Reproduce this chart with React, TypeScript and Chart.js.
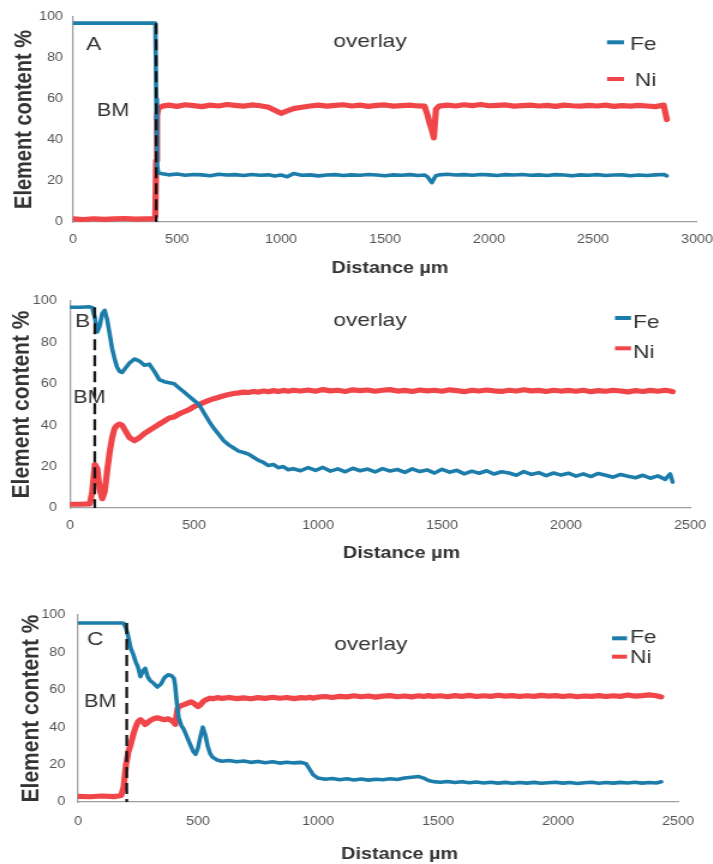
import React, { useEffect, useRef } from "react";
import { Chart, registerables } from "chart.js";

Chart.register(...registerables);

const FONT = '"Liberation Sans", Arial, Helvetica, sans-serif';
Chart.defaults.font.family = FONT;

// ---------------- data ----------------
const yTickValues = [0, 20, 40, 60, 80, 100];
const xTickValuesA = [0, 500, 1000, 1500, 2000, 2500, 3000];
const xTickValuesBC = [0, 500, 1000, 1500, 2000, 2500];
const seriesNames = ["Fe", "Ni"];
const panelLetters = ["A", "B", "C"];
const boundaryDistance = [400, 100, 203];
const boundaryTop = [97, 97, 95.7];

// Panel A
const distA = [0, 50, 100, 150, 200, 250, 300, 350, 390, 396, 400, 404, 410, 430, 460, 500, 540, 580, 620, 660, 700, 740, 780, 820, 860, 900, 940, 970, 1000, 1030, 1060, 1100, 1140, 1180, 1220, 1260, 1300, 1340, 1380, 1420, 1460, 1500, 1540, 1580, 1620, 1660, 1690, 1705, 1715, 1725, 1735, 1745, 1760, 1800, 1840, 1880, 1920, 1960, 2000, 2040, 2080, 2120, 2160, 2200, 2240, 2280, 2320, 2360, 2400, 2440, 2480, 2520, 2560, 2600, 2640, 2680, 2720, 2760, 2800, 2840, 2855];
const feA = [97, 97, 97, 97, 97, 97, 97, 97, 97, 97, 60, 28, 24, 23.5, 23.0, 23.4, 22.8, 23.2, 23.0, 22.6, 23.3, 22.9, 23.1, 22.7, 23.2, 22.8, 23.0, 22.4, 22.9, 22.1, 23.6, 22.8, 23.0, 22.5, 22.9, 23.1, 22.7, 23.0, 22.8, 23.2, 22.9, 22.6, 23.0, 22.8, 23.1, 22.7, 22.9, 22.0, 20.5, 19.2, 21.0, 22.6, 23.0, 23.3, 22.9, 23.1, 22.8, 23.2, 23.0, 22.7, 23.1, 22.9, 23.2, 22.8, 23.0, 22.7, 23.1, 22.9, 22.6, 23.0, 22.8, 23.1, 22.7, 22.9, 23.0, 22.6, 22.9, 22.7, 23.0, 23.2, 22.5];
const niA = [1.5, 1.2, 1.6, 1.3, 1.5, 1.7, 1.4, 1.5, 1.6, 3, 30, 52, 55.5, 56.5, 57.0, 56.4, 57.2, 56.8, 56.3, 57.0, 56.6, 57.3, 56.9, 56.5, 57.1, 56.7, 56.0, 54.5, 53.0, 54.2, 55.3, 56.0, 56.6, 57.0, 56.5, 56.9, 57.2, 56.6, 57.0, 56.4, 56.9, 57.1, 56.5, 56.8, 57.0, 56.6, 56.5, 52, 48, 45, 41, 55, 56.5, 57.0, 56.6, 57.2, 56.8, 57.3, 56.7, 56.9, 57.1, 56.5, 56.8, 57.0, 56.6, 56.9, 56.4, 57.0, 56.7, 56.5, 56.9, 56.6, 57.0, 56.4, 56.8, 56.5, 56.9, 56.6, 56.3, 57.0, 50];

// Panel B
const distB = [0, 40, 80, 90, 100, 110, 120, 130, 140, 150, 160, 170, 180, 190, 200, 210, 220, 240, 260, 280, 300, 320, 340, 360, 380, 400, 420, 440, 460, 480, 500, 520, 540, 560, 580, 600, 620, 640, 660, 680, 700, 720, 740, 760, 780, 800, 820, 840, 860, 880, 900, 930, 960, 990, 1020, 1050, 1080, 1110, 1140, 1170, 1200, 1230, 1260, 1290, 1320, 1350, 1380, 1410, 1440, 1470, 1500, 1530, 1560, 1590, 1620, 1650, 1680, 1710, 1740, 1770, 1800, 1830, 1860, 1890, 1920, 1950, 1980, 2010, 2040, 2070, 2100, 2130, 2160, 2190, 2220, 2250, 2280, 2310, 2340, 2370, 2400, 2420, 2430];
const feB = [97, 97, 97.2, 96.8, 92, 85, 88, 94, 95.5, 91, 84, 77, 72, 68, 66, 65.5, 67, 70, 72, 71, 69, 69.5, 66, 62, 61, 60.5, 60, 58, 56, 54, 52, 50, 46, 42, 38.5, 35.5, 32.5, 30.5, 29, 27.5, 26.8, 26, 24.5, 23, 22, 20.5, 21, 19.5, 20, 18.5, 19, 18, 19.5, 18.2, 19.6, 17.8, 18.9, 17.5, 19.2, 18.0, 18.8, 17.4, 19.0, 17.9, 18.6, 17.2, 18.9, 17.6, 18.4, 16.9, 18.7, 17.3, 18.2, 16.5, 17.8, 16.8, 18.0, 16.4, 17.5, 16.9, 15.8, 17.6, 16.2, 17.1, 15.6, 16.9, 15.9, 16.8, 15.4, 16.5, 15.2, 16.7, 15.8, 14.9, 16.2, 15.3, 14.6, 15.8, 14.4, 15.5, 13.8, 16.5, 12.5];
const niB = [1.8, 1.8, 2.0, 8, 21, 19, 9, 4.5, 8, 18, 27, 34, 38.5, 40, 40.5, 40, 38, 34, 32.5, 34, 36, 37.5, 39, 40.5, 42, 43.5, 44, 45.5, 46.5, 47.5, 49, 50, 51, 52, 52.8, 53.5, 54.2, 54.8, 55.3, 55.6, 56, 55.8, 56.3, 56, 56.5, 56.2, 56.7, 56.3, 56.8, 56.4, 56.9, 56.5, 57.0, 56.4, 57.2, 56.6, 56.9, 56.3, 57.1, 56.7, 57.0, 56.4, 56.9, 57.2, 56.5, 56.8, 56.3, 57.0, 56.6, 56.9, 56.4, 57.1, 56.7, 56.2, 56.9, 56.5, 57.0, 56.6, 56.3, 56.9, 56.5, 57.1, 56.6, 56.8, 56.3, 56.9, 56.5, 56.8, 56.4, 56.9, 56.2, 56.7, 56.4, 56.9, 56.5, 56.1, 56.7, 56.3, 56.8, 56.4, 56.9, 56.5, 56.2];

// Panel C
const distC = [0, 50, 100, 150, 180, 190, 200, 210, 220, 230, 240, 250, 260, 270, 280, 290, 300, 315, 330, 345, 360, 375, 390, 400, 405, 410, 415, 420, 430, 440, 450, 460, 470, 480, 490, 500, 510, 520, 530, 540, 550, 560, 580, 600, 630, 660, 690, 720, 750, 780, 810, 840, 870, 900, 930, 950, 965, 980, 1000, 1030, 1060, 1090, 1120, 1150, 1180, 1210, 1240, 1270, 1300, 1330, 1360, 1390, 1420, 1440, 1460, 1480, 1510, 1540, 1570, 1600, 1630, 1660, 1690, 1720, 1750, 1780, 1810, 1840, 1870, 1900, 1930, 1960, 1990, 2020, 2050, 2080, 2110, 2140, 2170, 2200, 2230, 2260, 2290, 2320, 2350, 2380, 2410, 2430];
const feC = [95.7, 95.7, 95.7, 95.7, 95.7, 95.6, 93, 88, 82, 79, 75, 72, 67, 70, 71.5, 67, 65, 63.5, 61.5, 63, 66.5, 68, 67.5, 66, 62, 55, 49, 45, 41, 39, 36, 33, 30, 27, 25.5, 29, 35, 40, 36, 30, 26, 24, 22.5, 21.8, 22.2, 21.5, 21.9, 21.2, 21.7, 21.0, 21.5, 20.8, 21.3, 20.9, 21.2, 20.5, 17.5, 14.5, 12.8, 12.2, 12.6, 11.9, 12.4, 11.8, 12.3, 11.7, 12.2, 11.9, 12.4, 12.0, 12.8, 13.2, 13.6, 12.8, 11.5, 10.9, 10.6, 11.0, 10.4, 10.8, 10.3, 10.7, 10.2, 10.6, 10.1, 10.5, 10.0, 10.4, 10.1, 10.5, 10.0, 10.3, 10.6, 10.1, 10.4, 9.9, 10.3, 10.6, 10.0, 10.4, 10.1, 10.5, 10.2, 10.6, 10.1, 10.4, 10.2, 10.8];
const niC = [3, 2.8, 3.2, 2.9, 3.5, 8, 20, 27, 31, 36, 40, 43, 44, 43, 41.5, 42.5, 43.5, 44.5, 45, 44.5, 44, 44.5, 43.5, 42.5, 41.5, 46, 50, 51, 51.5, 52, 52.5, 53, 53.5, 53, 52, 51, 52, 53.5, 54.5, 55, 55.5, 55.2, 55.8, 55.4, 55.9, 55.3, 55.7, 55.2, 55.8, 55.4, 56.0, 55.5, 55.9, 55.3, 55.8, 55.6, 56.0, 55.5, 56.1, 56.4, 55.9, 56.5, 56.2, 56.8, 56.3, 56.7, 56.1, 56.6, 56.9, 56.3, 56.7, 56.2, 56.8, 56.4, 56.9, 56.5, 56.8, 56.3, 56.9, 56.5, 57.0, 56.4, 56.8, 56.5, 57.1, 56.6, 56.9, 56.4, 56.8, 56.5, 57.0, 56.6, 56.9, 56.4, 56.8, 56.3, 56.7, 56.5, 56.9, 56.4, 56.8, 56.5, 57.2, 56.6, 56.9, 57.3, 56.8, 56.2];

// ---------------- styling / layout ----------------
const FE_COLOR = "#1c7dab";
const NI_COLOR = "#f04549";
const TEXT = "#333333";
const TICK = "#555555";
const AXIS = "#a0a0a0";
const SX = 1.2; // horizontal stretch of the reference picture
const W = 595;

type Spec = {
  top: number; height: number;
  area: { l: number; r: number; t: number; b: number };
  xMax: number; xTicks: number[];
  dist: number[]; fe: number[]; ni: number[];
  boundary: number; boundaryTop: number;
  letter: string;
  yTitleSize: number; yTitlePad: number; yTickPad: number; xTickPad: number;
  pos: any;
};

const panels: Spec[] = [
  {
    top: 0, height: 285, area: { l: 60.8, r: 580.8, t: 17, b: 222 },
    xMax: 3000, xTicks: xTickValuesA, dist: distA, fe: feA, ni: niA,
    boundary: boundaryDistance[0], boundaryTop: boundaryTop[0], letter: panelLetters[0],
    yTitleSize: 20, yTitlePad: 8, yTickPad: 8.3, xTickPad: 10,
    pos: {
      letter: [71.7, 50], bm: [80.8, 116], overlay: [308.3, 47],
      fe: { dash: [505.8, 520, 42.3], text: [525, 50] },
      ni: { dash: [505.8, 520, 79], text: [529, 86] },
      xTitle: [325, 273],
    },
  },
  {
    top: 285, height: 290, area: { l: 58.3, r: 575, t: 16, b: 223 },
    xMax: 2500, xTicks: xTickValuesBC, dist: distB, fe: feB, ni: niB,
    boundary: boundaryDistance[1], boundaryTop: boundaryTop[1], letter: panelLetters[1],
    yTitleSize: 21, yTitlePad: 6.1, yTickPad: 11, xTickPad: 10,
    pos: {
      letter: [62.5, 42], bm: [61, 118], overlay: [308.3, 41],
      fe: { dash: [512.5, 525.8, 33], text: [527.5, 43] },
      ni: { dash: [512.5, 525.8, 63.3], text: [527.5, 73] },
      xTitle: [334.6, 273],
    },
  },
  {
    top: 575, height: 289, area: { l: 65, r: 565, t: 40, b: 227 },
    xMax: 2500, xTicks: xTickValuesBC, dist: distC, fe: feC, ni: niC,
    boundary: boundaryDistance[2], boundaryTop: boundaryTop[2], letter: panelLetters[2],
    yTitleSize: 21, yTitlePad: 13.2, yTickPad: 10.6, xTickPad: 12.5,
    pos: {
      letter: [72.5, 70], bm: [70, 132], overlay: [309, 75],
      fe: { dash: [510, 522.5, 63.3], text: [525, 68] },
      ni: { dash: [510, 522.5, 81.7], text: [525, 88] },
      xTitle: [333, 284],
    },
  },
];

function zip(xs: number[], ys: number[]) {
  const n = Math.min(xs.length, ys.length);
  const out: { x: number; y: number }[] = [];
  for (let i = 0; i < n; i++) out.push({ x: xs[i], y: ys[i] });
  return out;
}

function textPlugin(p: Spec) {
  return {
    id: "panelText",
    afterDraw(chart: any) {
      const ctx: CanvasRenderingContext2D = chart.ctx;
      const q = p.pos;
      ctx.save();
      ctx.fillStyle = TEXT;
      ctx.textBaseline = "alphabetic";
      ctx.textAlign = "left";
      ctx.font = `19px ${FONT}`;
      ctx.fillText(p.letter, q.letter[0], q.letter[1]);
      ctx.font = `18px ${FONT}`;
      ctx.fillText("BM", q.bm[0], q.bm[1]);
      ctx.font = `19px ${FONT}`;
      ctx.textAlign = "center";
      ctx.fillText("overlay", q.overlay[0], q.overlay[1]);
      // legend
      ctx.textAlign = "left";
      const items = [
        { name: seriesNames[0], color: FE_COLOR, s: q.fe },
        { name: seriesNames[1], color: NI_COLOR, s: q.ni },
      ];
      for (const it of items) {
        ctx.strokeStyle = it.color;
        ctx.lineWidth = 4;
        ctx.lineCap = "butt";
        ctx.beginPath();
        ctx.moveTo(it.s.dash[0], it.s.dash[2]);
        ctx.lineTo(it.s.dash[1], it.s.dash[2]);
        ctx.stroke();
        ctx.fillStyle = TEXT;
        ctx.font = `19px ${FONT}`;
        ctx.fillText(it.name, it.s.text[0], it.s.text[1]);
      }
      // x-axis title
      ctx.font = `bold 16.5px ${FONT}`;
      ctx.textAlign = "center";
      ctx.fillStyle = TEXT;
      ctx.fillText("Distance µm", q.xTitle[0], q.xTitle[1]);
      ctx.restore();
    },
  };
}

function makeConfig(p: Spec): any {
  return {
    type: "line",
    data: {
      datasets: [
        {
          label: "BM boundary",
          data: [{ x: p.boundary, y: p.boundaryTop }, { x: p.boundary, y: 0 }],
          borderColor: "#151515",
          borderWidth: 2.3,
          borderDash: [11, 5],
          pointRadius: 0,
          order: 0,
        },
        {
          label: seriesNames[0],
          data: zip(p.dist, p.fe),
          borderColor: FE_COLOR,
          borderWidth: 3.6,
          pointRadius: 0,
          tension: 0,
          borderJoinStyle: "round",
          borderCapStyle: "round",
          order: 1,
        },
        {
          label: seriesNames[1],
          data: zip(p.dist, p.ni),
          borderColor: NI_COLOR,
          borderWidth: 5.2,
          pointRadius: 0,
          tension: 0,
          borderJoinStyle: "round",
          borderCapStyle: "round",
          order: 2,
        },
      ],
    },
    options: {
      responsive: false,
      animation: false,
      devicePixelRatio: 1,
      events: [],
      layout: { padding: { left: 0, top: p.area.t, right: W - p.area.r, bottom: 0 } },
      plugins: { legend: { display: false }, tooltip: { enabled: false } },
      scales: {
        x: {
          type: "linear",
          min: 0,
          max: p.xMax,
          afterBuildTicks: (s: any) => {
            s.ticks = p.xTicks.map((v) => ({ value: v }));
          },
          afterFit: (s: any) => {
            s.height = p.height - p.area.b;
            s.paddingLeft = 0;
            s.paddingRight = 0;
          },
          grid: { display: false, drawTicks: false },
          border: { display: true, color: AXIS, width: 1.3 },
          ticks: {
            padding: p.xTickPad,
            color: TICK,
            font: { size: 12 },
            maxRotation: 0,
            autoSkip: false,
            callback: (v: any) => String(v),
          },
        },
        y: {
          type: "linear",
          min: 0,
          max: 100,
          afterBuildTicks: (s: any) => {
            s.ticks = yTickValues.map((v) => ({ value: v }));
          },
          afterFit: (s: any) => {
            s.width = p.area.l;
            s.paddingTop = 0;
            s.paddingBottom = 0;
          },
          grid: { display: false, drawTicks: false },
          border: { display: true, color: AXIS, width: 1.3 },
          ticks: {
            padding: p.yTickPad,
            color: TICK,
            font: { size: 12 },
            callback: (v: any) => String(v),
          },
          title: {
            display: true,
            text: "Element content %",
            color: TEXT,
            font: { size: p.yTitleSize, weight: "bold" },
            padding: { top: p.yTitlePad, bottom: 0 },
          },
        },
      },
    },
    plugins: [textPlugin(p)],
  };
}

function Panel({ p }: { p: Spec }) {
  const ref = useRef<HTMLCanvasElement | null>(null);
  useEffect(() => {
    if (!ref.current) return;
    const chart = new Chart(ref.current, makeConfig(p));
    return () => chart.destroy();
  }, [p]);
  return (
    <div
      style={{
        position: "absolute",
        left: 0,
        top: p.top,
        width: W,
        height: p.height,
        transform: `scaleX(${SX})`,
        transformOrigin: "0 0",
      }}
    >
      <canvas ref={ref} width={W} height={p.height} style={{ display: "block" }} />
    </div>
  );
}

export default function App() {
  return (
    <div
      style={{
        position: "absolute",
        left: 0,
        top: 0,
        width: 713,
        height: 864,
        overflow: "hidden",
        background: "#ffffff",
      }}
    >
      {panels.map((p, i) => (
        <Panel key={i} p={p} />
      ))}
    </div>
  );
}
